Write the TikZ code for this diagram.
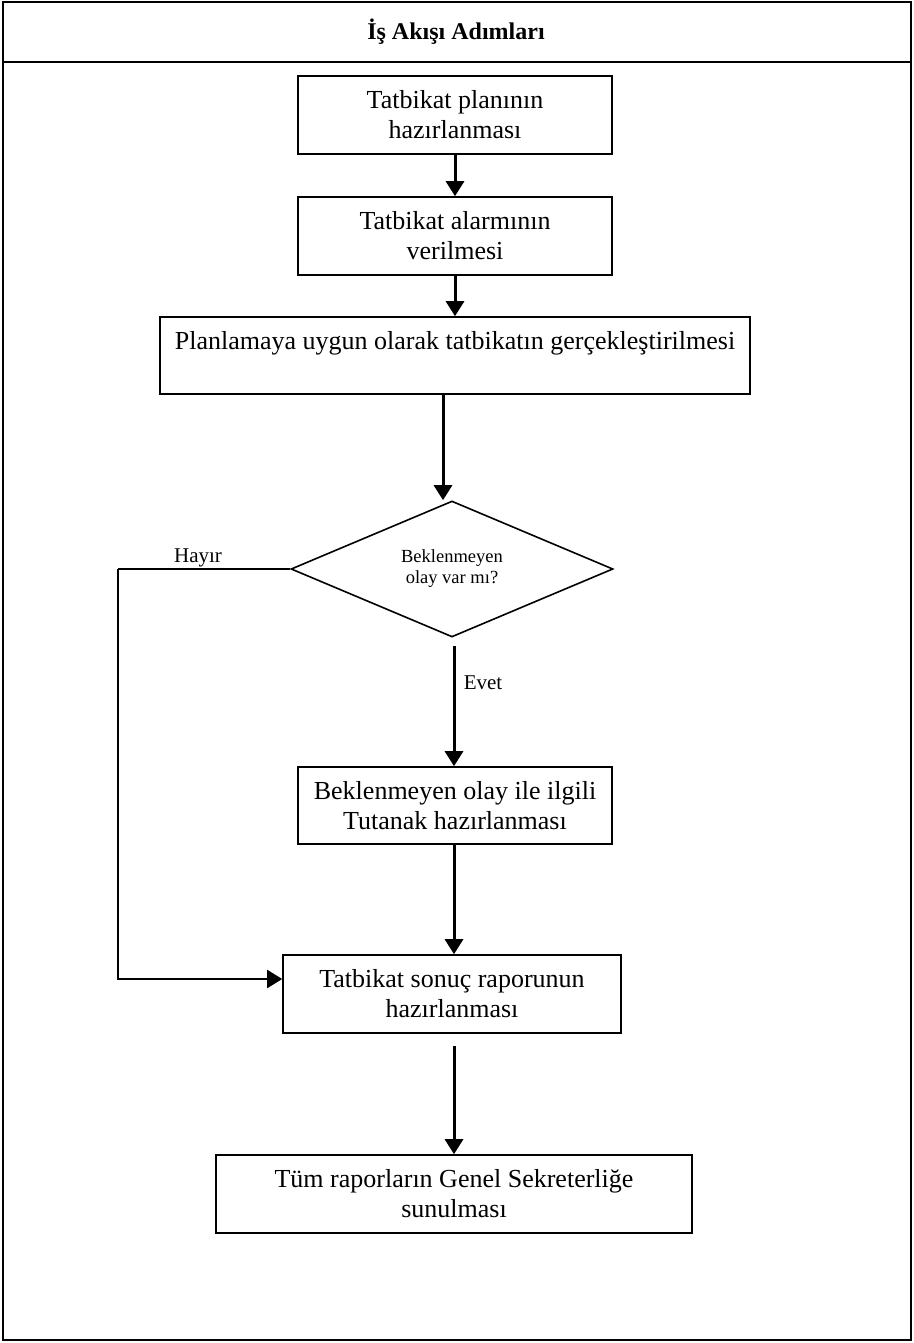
\documentclass[tikz,border=0pt]{standalone}
\usepackage{fontspec}
\setmainfont{Liberation Serif}
\usetikzlibrary{arrows.meta,shapes.geometric,calc}
\begin{document}
\begin{tikzpicture}[x=1pt,y=-1pt,
  stepbox/.style={draw,line width=1.6pt,inner sep=0pt,align=center,font=\fontsize{26}{30}\selectfont},
  arr/.style={line width=3pt,-{Triangle[length=15pt,width=18pt]}},
  conn/.style={line width=2pt},
  hconn/.style={line width=2pt,-{Triangle[length=15pt,width=18pt]}},
  lbl/.style={font=\fontsize{21}{24}\selectfont,inner sep=0pt},
  decision/.style={draw,shape=diamond,line width=1.6pt,inner sep=0pt,aspect=2.4,
    minimum width=322pt,minimum height=136pt,align=center,font=\fontsize{18.5}{21}\selectfont}]
\useasboundingbox (0,0) rectangle (913,1343);
% frame and header
\draw[line width=1.8pt] (3,2) rectangle (911,1340);
\draw[line width=2.6pt] (3,62) -- (911,62);
\node[font=\bfseries\fontsize{24}{28}\selectfont] (hdr) at (456,32) {İş Akışı Adımları};
% boxes
\node[stepbox,minimum width=314pt,minimum height=78pt] (b1) at (455,115) {Tatbikat planının\\hazırlanması};
\node[stepbox,minimum width=314pt,minimum height=78pt] (b2) at (455,236) {Tatbikat alarmının\\verilmesi};
\node[stepbox,minimum width=590pt,minimum height=77pt] (b3) at (455,355.5) {Planlamaya uygun olarak tatbikatın gerçekleştirilmesi\\\mbox{}};
\node[decision] (d) at (452,569) {Beklenmeyen\\olay var mı?};
\node[stepbox,minimum width=314pt,minimum height=77pt] (b4) at (455,805.5) {Beklenmeyen olay ile ilgili\\Tutanak hazırlanması};
\node[stepbox,minimum width=338pt,minimum height=78pt] (b5) at (452,994) {Tatbikat sonuç raporunun\\hazırlanması};
\node[stepbox,minimum width=476pt,minimum height=78pt] (b6) at (454,1194) {Tüm raporların Genel Sekreterliğe\\sunulması};
% connectors
\draw[arr] (b1.south) -- (b2.north);
\draw[arr] (b2.south) -- (b3.north);
\draw[arr] ([xshift=-12pt]b3.south) -- ([xshift=-12pt]b3.south |- d.north);
\draw[arr] ([xshift=2pt,yshift=-8pt]d.south) -- ([xshift=-1pt]b4.north);
\node[lbl] (evet) at (483,683) {Evet};
\draw[arr] ([xshift=-1pt]b4.south) -- ([xshift=2pt]b5.north);
\coordinate (hx) at (118,569);
\draw[conn,-] (d.west) -- (hx);
\draw[hconn] (hx) |- ([yshift=15pt]b5.west);
\node[lbl] (hayir) at (198,558) {Hayır};
\draw[arr] ([xshift=2pt,yshift=-12pt]b5.south) -- (b6.north);
\end{tikzpicture}
\end{document}
